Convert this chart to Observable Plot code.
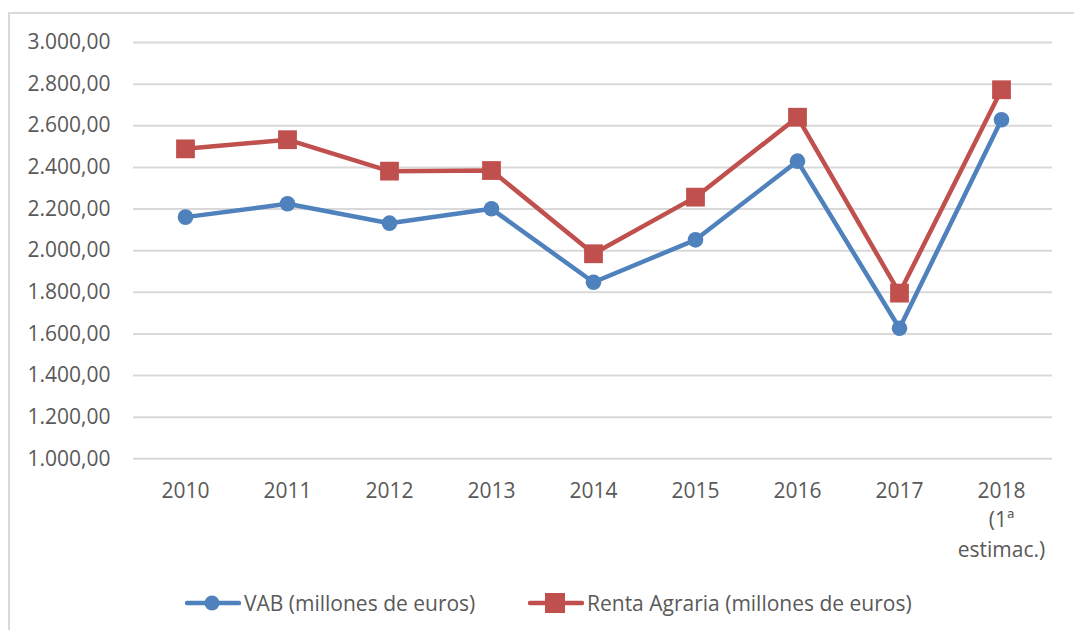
<!DOCTYPE html>
<html>
<head>
<meta charset="utf-8">
<script src="https://cdn.jsdelivr.net/npm/d3@7"></script>
<script src="https://cdn.jsdelivr.net/npm/@observablehq/plot@0.6"></script>
<style>
  html, body { margin: 0; padding: 0; background: #fff; }
  body { width: 1074px; height: 630px; position: relative; overflow: hidden; font-family: "Open Sans", sans-serif; }
  #frame { position: absolute; left: 8px; top: 12px; width: 1100px; height: 700px; border-top: 2px solid #d9d9d9; border-left: 2px solid #d9d9d9; box-sizing: border-box; }
  #chart { position: absolute; left: 0; top: 0; }
  #legend { position: absolute; left: 0; top: 588px; width: 1074px; height: 30px; font-size: 21px; color: #595959; }
  .item { position: absolute; top: 0; display: flex; align-items: center; height: 30px; }
  .item svg { margin-right: 3px; }
</style>
</head>
<body>
<div id="frame"></div>
<div id="chart"></div>
<div id="legend"></div>
<script>
const years = ["2010", "2011", "2012", "2013", "2014", "2015", "2016", "2017", "2018"];
const yearLabels = ["2010", "2011", "2012", "2013", "2014", "2015", "2016", "2017", "2018\n(1ª\nestimac.)"];
const vab = [2161, 2225, 2132, 2201, 1848, 2052, 2430, 1627, 2629];
const renta = [2489, 2533, 2382, 2385, 1985, 2257, 2641, 1796, 2773];
const seriesNames = ["VAB (millones de euros)", "Renta Agraria (millones de euros)"];
const seriesColors = ["#4F81BD", "#C0504D"];
const yTicks = [1000, 1200, 1400, 1600, 1800, 2000, 2200, 2400, 2600, 2800, 3000];

const vabData = years.map((y, i) => ({year: y, value: vab[i]}));
const rentaData = years.map((y, i) => ({year: y, value: renta[i]}));

const esFormat = d3.formatLocale({decimal: ",", thousands: ".", grouping: [3], currency: ["", "€"]}).format(",.2f");
const labelOf = new Map(years.map((y, i) => [y, yearLabels[i]]));

const chart = Plot.plot({
  width: 1074,
  height: 580,
  marginLeft: 133,
  marginRight: 22,
  marginTop: 42,
  marginBottom: 121.7,
  style: {fontFamily: "'Open Sans', sans-serif", fontSize: "21px", color: "#595959", background: "transparent", overflow: "visible"},
  x: {type: "point", domain: years, padding: 0.5, label: null},
  y: {domain: [1000, 3000], label: null},
  marks: [
    Plot.gridY(yTicks, {stroke: "#d9d9d9", strokeOpacity: 1, strokeWidth: 2}),
    Plot.axisY(yTicks, {tickSize: 0, tickPadding: 23, tickFormat: esFormat, fill: "#595959", fontSize: 21, label: null}),
    Plot.axisX({tickSize: 0, tickPadding: 18, tickFormat: d => labelOf.get(d), lineHeight: 1.41, fill: "#595959", fontSize: 21, label: null}),
    Plot.line(vabData, {x: "year", y: "value", stroke: seriesColors[0], strokeWidth: 4.5}),
    Plot.line(rentaData, {x: "year", y: "value", stroke: seriesColors[1], strokeWidth: 4.5}),
    Plot.dot(vabData, {x: "year", y: "value", fill: seriesColors[0], r: 7.8, symbol: "circle"}),
    Plot.dot(rentaData, {x: "year", y: "value", fill: seriesColors[1], r: 10.6, symbol: "square"})
  ]
});
document.getElementById("chart").appendChild(chart);

// Legend
const legend = document.getElementById("legend");
const legendLefts = [185, 528];
seriesNames.forEach((name, i) => {
  const item = document.createElement("div");
  item.className = "item";
  item.style.left = legendLefts[i] + "px";
  const marker = i === 0
    ? `<circle cx="27" cy="15" r="7.5" fill="${seriesColors[i]}"/>`
    : `<rect x="17" y="5" width="20" height="20" fill="${seriesColors[i]}"/>`;
  item.innerHTML = `<svg width="56" height="30"><line x1="2" x2="54" y1="15" y2="15" stroke="${seriesColors[i]}" stroke-width="4.5" stroke-linecap="round"/>${marker}</svg><span>${name}</span>`;
  legend.appendChild(item);
});
</script>
</body>
</html>
